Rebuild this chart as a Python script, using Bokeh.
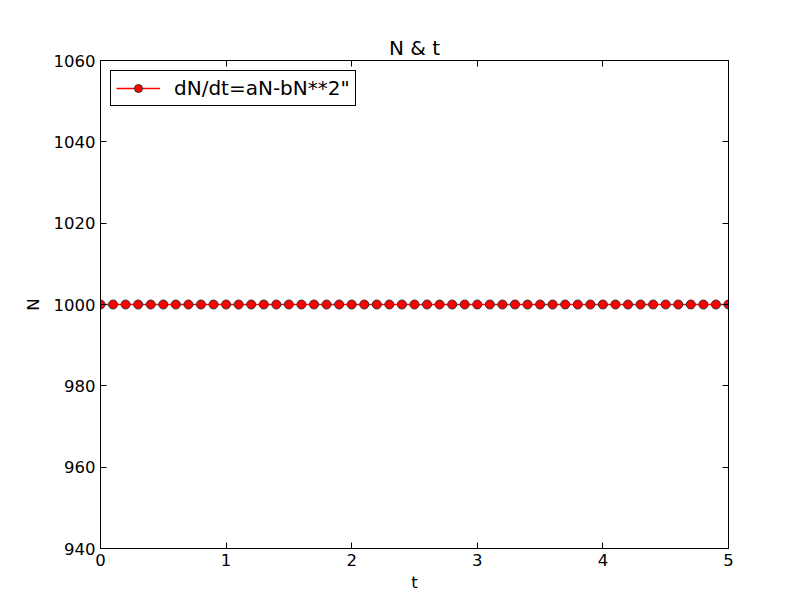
from bokeh.plotting import figure
from bokeh.models import LinearAxis, FixedTicker, Range1d, Legend, LegendItem
from bokeh.embed import file_html
from bokeh.resources import INLINE

t_values = [0.0, 0.1, 0.2, 0.3, 0.4, 0.5, 0.6, 0.7, 0.8, 0.9,
            1.0, 1.1, 1.2, 1.3, 1.4, 1.5, 1.6, 1.7, 1.8, 1.9,
            2.0, 2.1, 2.2, 2.3, 2.4, 2.5, 2.6, 2.7, 2.8, 2.9,
            3.0, 3.1, 3.2, 3.3, 3.4, 3.5, 3.6, 3.7, 3.8, 3.9,
            4.0, 4.1, 4.2, 4.3, 4.4, 4.5, 4.6, 4.7, 4.8, 4.9, 5.0]
N_values = [1000] * 51
x_ticks = [0, 1, 2, 3, 4, 5]
y_ticks = [940, 960, 980, 1000, 1020, 1040, 1060]
series_label = 'dN/dt=aN-bN**2"'

FONT = "DejaVu Sans"

p = figure(width=796, height=596, output_backend="svg", toolbar_location=None,
           x_range=Range1d(0, 5), y_range=Range1d(940, 1060),
           min_border_left=100, min_border_right=68, min_border_top=60, min_border_bottom=48,
           title="N & t", x_axis_label="t", y_axis_label="N")
p.title.align = "center"
p.title.text_font = FONT
p.title.text_font_size = "20px"
p.title.text_font_style = "normal"
p.title.text_color = "black"
p.title.standoff = 2

p.xgrid.visible = False
p.ygrid.visible = False
p.outline_line_color = "black"
p.outline_line_width = 1
p.outline_line_alpha = 1
p.background_fill_color = "white"
p.border_fill_color = "white"

for ax in [p.xaxis[0], p.yaxis[0]]:
    ax.major_tick_in = 6
    ax.major_tick_out = 0
    ax.minor_tick_in = 0
    ax.minor_tick_out = 0
    ax.axis_line_color = "black"
    ax.major_tick_line_color = "black"
    ax.major_label_text_font = FONT
    ax.major_label_text_font_size = "16.5px"
    ax.major_label_text_color = "black"
    ax.axis_label_text_font = FONT
    ax.axis_label_text_font_size = "16.5px"
    ax.axis_label_text_font_style = "normal"
    ax.axis_label_text_color = "black"
    ax.major_label_standoff = 5
p.xaxis[0].ticker = FixedTicker(ticks=x_ticks)
p.yaxis[0].ticker = FixedTicker(ticks=y_ticks)
p.xaxis[0].axis_label_standoff = 4
p.yaxis[0].axis_label_standoff = 8

top_ax = LinearAxis(ticker=FixedTicker(ticks=x_ticks), major_tick_in=6, major_tick_out=0,
                    minor_tick_in=0, minor_tick_out=0, major_label_text_font_size="0px",
                    major_label_text_color=None, major_tick_line_color="black")
right_ax = LinearAxis(ticker=FixedTicker(ticks=y_ticks), major_tick_in=6, major_tick_out=0,
                      minor_tick_in=0, minor_tick_out=0, major_label_text_font_size="0px",
                      major_label_text_color=None, major_tick_line_color="black")
p.add_layout(top_ax, "above")
p.add_layout(right_ax, "right")

ln = p.line(t_values, N_values, line_color="red", line_width=1.4)
sc = p.scatter(t_values, N_values, marker="circle", size=9, fill_color="red",
               line_color="#333333", line_width=1)

legend = Legend(items=[LegendItem(label=series_label, renderers=[ln, sc])],
                location="top_left")
legend.border_line_color = "black"
legend.border_line_alpha = 1
legend.border_line_width = 1
legend.label_text_font = FONT
legend.label_text_font_size = "20px"
legend.label_text_color = "black"
legend.margin = 10
legend.padding = 5
legend.spacing = 0
legend.glyph_width = 44
legend.label_standoff = 14
legend.background_fill_alpha = 1
p.add_layout(legend)

open("out.html", "w").write(file_html(p, INLINE))
